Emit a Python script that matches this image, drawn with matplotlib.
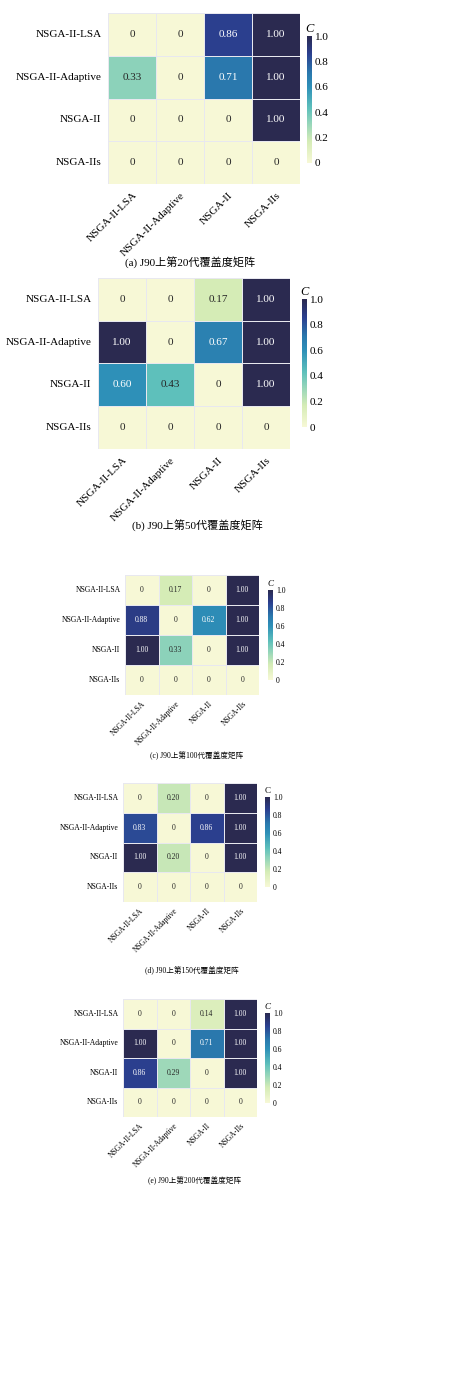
import matplotlib
matplotlib.use("Agg")
import matplotlib.pyplot as plt
from matplotlib.colors import LinearSegmentedColormap
import numpy as np
import seaborn as sns

plt.rcParams["font.family"] = ["Liberation Serif", "Noto Sans CJK SC", "DejaVu Sans"]

algorithms = ["NSGA-II-LSA", "NSGA-II-Adaptive", "NSGA-II", "NSGA-IIs"]

c_gen20 = [[0, 0, 0.86, 1.00],
           [0.33, 0, 0.71, 1.00],
           [0, 0, 0, 1.00],
           [0, 0, 0, 0]]
c_gen50 = [[0, 0, 0.17, 1.00],
           [1.00, 0, 0.67, 1.00],
           [0.60, 0.43, 0, 1.00],
           [0, 0, 0, 0]]
c_gen100 = [[0, 0.17, 0, 1.00],
            [0.88, 0, 0.62, 1.00],
            [1.00, 0.33, 0, 1.00],
            [0, 0, 0, 0]]
c_gen150 = [[0, 0.20, 0, 1.00],
            [0.83, 0, 0.86, 1.00],
            [1.00, 0.20, 0, 1.00],
            [0, 0, 0, 0]]
c_gen200 = [[0, 0, 0.14, 1.00],
            [1.00, 0, 0.71, 1.00],
            [0.86, 0.29, 0, 1.00],
            [0, 0, 0, 0]]

captions = ["(a) J90上第20代覆盖度矩阵",
            "(b) J90上第50代覆盖度矩阵",
            "(c) J90上第100代覆盖度矩阵",
            "(d) J90上第150代覆盖度矩阵",
            "(e) J90上第200代覆盖度矩阵"]

# muted YlGnBu as it appears in the figure
cmap = LinearSegmentedColormap.from_list("muted_ylgnbu", [
    (0.0, "#f7f8d6"), (0.17, "#d5ecb6"), (0.33, "#8cd2ba"), (0.43, "#5ec0bb"),
    (0.60, "#2e90b8"), (0.71, "#2a78ad"), (0.86, "#2b3f8f"), (1.0, "#2b2a50")])

W, H = 450, 1394
fig = plt.figure(figsize=(W / 100, H / 100), dpi=100)


def rect(x0, y0, x1, y1):
    return [x0 / W, 1 - y1 / H, (x1 - x0) / W, (y1 - y0) / H]


def draw_panel(data, caption, hm_box, cb_box, cap_xy, fs, italic_c=True):
    data = np.array(data)
    labels = np.array([["0" if v == 0 else f"{v:.2f}" for v in row] for row in data])
    ax = fig.add_axes(rect(*hm_box))
    cax = fig.add_axes(rect(*cb_box))
    sns.heatmap(data, ax=ax, cbar_ax=cax, cmap=cmap, vmin=0, vmax=1,
                annot=labels, fmt="", annot_kws={"fontsize": fs},
                linewidths=0.6, linecolor="#e8e8ef",
                xticklabels=algorithms, yticklabels=algorithms)
    ax.tick_params(length=0, labelsize=fs, pad=fs * 0.6)
    plt.setp(ax.get_xticklabels(), rotation=45, ha="right", rotation_mode="anchor")
    plt.setp(ax.get_yticklabels(), rotation=0)
    cb = ax.collections[0].colorbar
    cb.outline.set_visible(False)
    cb.set_ticks([0, 0.2, 0.4, 0.6, 0.8, 1.0])
    cb.set_ticklabels(["0", "0.2", "0.4", "0.6", "0.8", "1.0"])
    cax.tick_params(length=0, labelsize=fs, pad=2)
    cax.set_title("C", fontsize=fs + 1, style="italic" if italic_c else "normal", pad=3)
    fig.text(cap_xy[0] / W, 1 - cap_xy[1] / H, caption, fontsize=fs,
             ha="center", va="center")


draw_panel(c_gen20, captions[0], (108, 13, 300, 184), (307, 36, 312, 163), (190, 263), 8)
draw_panel(c_gen50, captions[1], (98, 278, 290, 449), (302, 299, 307, 427), (197, 526), 8)
draw_panel(c_gen100, captions[2], (125, 575, 259, 695), (268, 590, 273, 680), (197, 756), 5.5)
draw_panel(c_gen150, captions[3], (123, 783, 257, 902), (265, 797, 270, 887), (192, 971), 5.5,
           italic_c=False)
draw_panel(c_gen200, captions[4], (123, 999, 257, 1117), (265, 1013, 270, 1103), (194, 1181), 5.5)

fig.savefig("out.png", dpi=100, facecolor="white")
